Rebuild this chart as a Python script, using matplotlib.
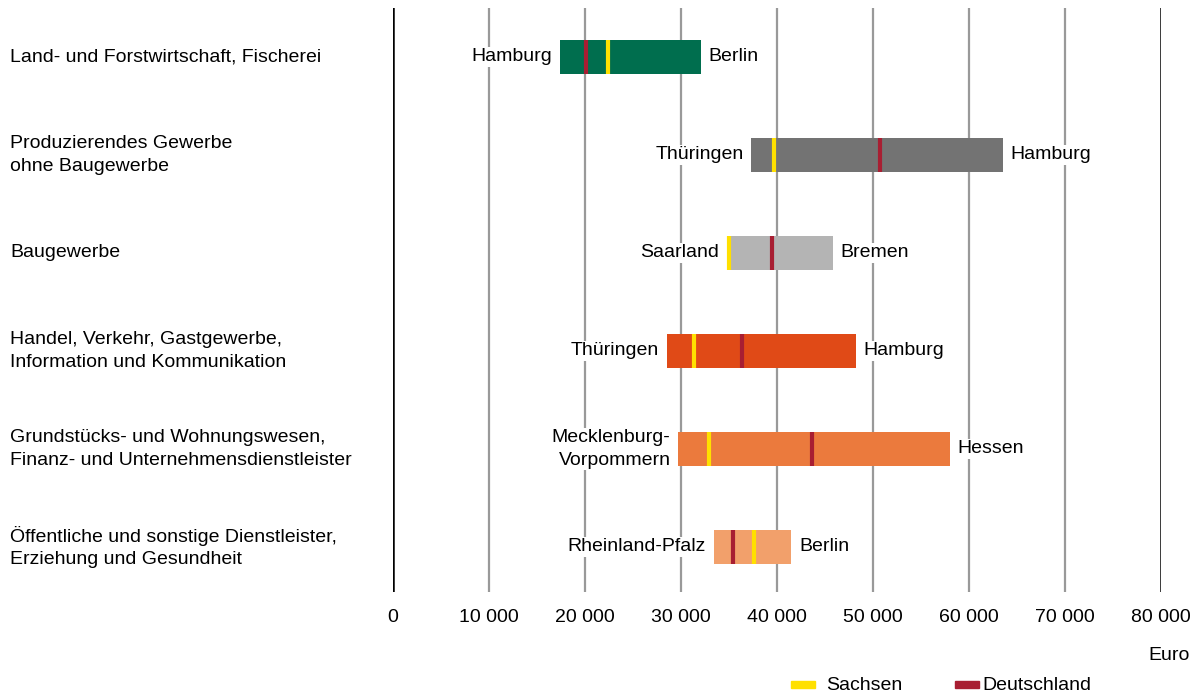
import matplotlib
matplotlib.use('Agg')
import matplotlib.pyplot as plt
import matplotlib.transforms as mtransforms

plt.rcParams['font.family'] = ['Liberation Sans', 'DejaVu Sans']

# ── Data ──────────────────────────────────────────────────────────
categories = [
    'Land- und Forstwirtschaft, Fischerei',
    'Produzierendes Gewerbe\nohne Baugewerbe',
    'Baugewerbe',
    'Handel, Verkehr, Gastgewerbe,\nInformation und Kommunikation',
    'Grundstücks- und Wohnungswesen,\nFinanz- und Unternehmensdienstleister',
    'Öffentliche und sonstige Dienstleister,\nErziehung und Gesundheit',
]
min_vals = [17400, 37300, 34750, 28500, 29700, 33400]
max_vals = [32100, 63500, 45800, 48200, 58000, 41500]
min_land = ['Hamburg', 'Thüringen', 'Saarland', 'Thüringen',
            'Mecklenburg-\nVorpommern', 'Rheinland-Pfalz']
max_land = ['Berlin', 'Hamburg', 'Bremen', 'Hamburg', 'Hessen', 'Berlin']
sachsen = [22400, 39700, 35000, 31350, 32900, 37600]
deutschland = [20100, 50700, 39500, 36350, 43600, 35400]
bar_colors = ['#006E4E', '#737373', '#B4B4B4', '#E04A17', '#EB7A3D', '#F2A06B']
ticks = [0, 10000, 20000, 30000, 40000, 50000, 60000, 70000, 80000]

C_SACHSEN = '#FFE000'
C_DE = '#A81E32'
FS = 14
LS = 1.4

# ── Plot ──────────────────────────────────────────────────────────
fig = plt.figure(figsize=(11.97, 6.96), dpi=100)
ax = fig.add_axes([393/1197, 1-592/696, (1161-393)/1197, 584/696])
ax.set_xlim(0, 80000)
ax.set_ylim(5.46, -0.5)
lab_tr = mtransforms.blended_transform_factory(fig.transFigure, ax.transData)

H = 0.35
for i in range(len(categories)):
    ax.barh(i, max_vals[i]-min_vals[i], left=min_vals[i], height=H,
            color=bar_colors[i], zorder=3)
    for xv, c in ((sachsen[i], C_SACHSEN), (deutschland[i], C_DE)):
        ax.plot([xv, xv], [i-H/2, i+H/2], color=c, lw=3,
                solid_capstyle='butt', zorder=4)
    ax.text(min_vals[i]-800, i, min_land[i], ha='right', va='center',
            fontsize=FS, linespacing=LS, zorder=5,
            bbox=dict(facecolor='white', edgecolor='none', pad=1))
    ax.text(max_vals[i]+800, i, max_land[i], ha='left', va='center',
            fontsize=FS, zorder=5,
            bbox=dict(facecolor='white', edgecolor='none', pad=1))
    ax.text(10/1197, i, categories[i], transform=lab_tr, clip_on=False,
            ha='left', va='center', fontsize=FS, linespacing=LS)

for t in ticks:
    if t in (0, 80000):
        ax.axvline(t, color='black', lw=1.8, zorder=1)
    else:
        ax.axvline(t, color='#999999', lw=1.6, zorder=1)

ax.set_yticks([])
ax.set_xticks([])
for sp in ax.spines.values():
    sp.set_visible(False)

for t in ticks:
    ax.text(t, -0.043, f'{t:,}'.replace(',', ' '),
            transform=ax.get_xaxis_transform(), ha='center', va='center',
            fontsize=FS)

fig.text(1190/1197, 1-656/696, 'Euro', ha='right', va='center', fontsize=FS)

# legend
ly = 1-685/696
fig.patches.append(plt.Rectangle((791/1197, ly-3/696), 24/1197, 7/696,
                                 color=C_SACHSEN, transform=fig.transFigure))
fig.text(826/1197, ly, 'Sachsen', ha='left', va='center', fontsize=FS)
fig.patches.append(plt.Rectangle((955/1197, ly-3/696), 24/1197, 7/696,
                                 color=C_DE, transform=fig.transFigure))
fig.text(982/1197, ly, 'Deutschland', ha='left', va='center', fontsize=FS)

fig.savefig('out.png', dpi=100)
